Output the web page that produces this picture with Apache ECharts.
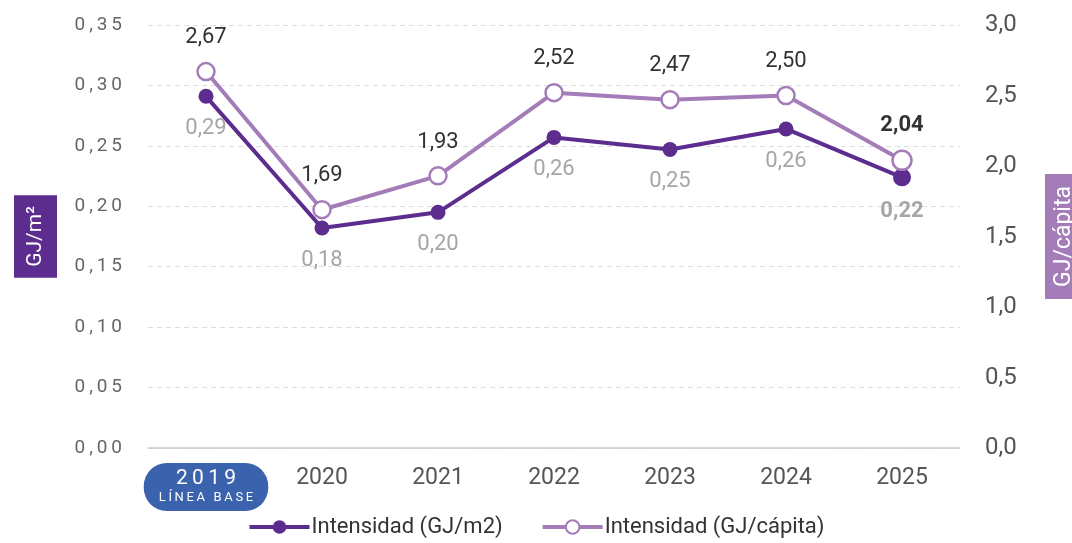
<!DOCTYPE html>
<html>
<head>
<meta charset="utf-8">
<script src="https://cdn.jsdelivr.net/npm/echarts@6/dist/echarts.min.js"></script>
<style>
  html, body { margin: 0; padding: 0; background: #fff; }
  #chart { width: 1072px; height: 543px; }
</style>
</head>
<body>
<div id="chart"></div>
<script>
// datos
var years = ['2019', '2020', '2021', '2022', '2023', '2024', '2025'];
var intensidadM2 = [0.291, 0.182, 0.195, 0.257, 0.247, 0.264, 0.224];
var intensidadM2Labels = ['0,29', '0,18', '0,20', '0,26', '0,25', '0,26', '0,22'];
var intensidadCapita = [2.67, 1.69, 1.93, 2.52, 2.47, 2.50, 2.04];
var leftTicks = ['0,00', '0,05', '0,10', '0,15', '0,20', '0,25', '0,30', '0,35'];
var rightTicks = ['0,0', '0,5', '1,0', '1,5', '2,0', '2,5', '3,0'];

var DARK = '#5c2d8e';
var LIGHT = '#a47cb8';
var FONT = 'Roboto, "Liberation Sans", sans-serif';

function spaced(s) {
  // separa los caracteres como en el original
  return s.split('').join('\u2009');
}

var xData = years.map(function (y, i) {
  if (i === 0) {
    return {
      value: y,
      textStyle: {
        backgroundColor: '#3a62ad',
        borderRadius: 23,
        padding: [5, 15, 5, 15],
        rich: {
          y: { fontSize: 21, color: '#fff', fontFamily: FONT, lineHeight: 22, align: 'center' },
          s: { fontSize: 13, color: '#fff', fontFamily: FONT, lineHeight: 16, align: 'center' }
        }
      }
    };
  }
  return y;
});

var myChart = echarts.init(document.getElementById('chart'));
myChart.setOption({
  animation: false,
  textStyle: { fontFamily: FONT },
  grid: { left: 148, right: 112, top: 25, bottom: 95, containLabel: false, outerBoundsMode: 'none' },
  legend: {
    bottom: 0,
    left: 'center',
    itemWidth: 60,
    itemHeight: 17,
    itemGap: 38,
    lineStyle: { width: 4 },
    textStyle: { fontSize: 22, color: '#333', fontFamily: FONT, padding: [0, 0, 0, -3] },
    data: ['Intensidad (GJ/m2)', 'Intensidad (GJ/cápita)']
  },
  xAxis: {
    type: 'category',
    data: xData,
    boundaryGap: true,
    axisLine: { show: true, lineStyle: { color: '#cccccc', width: 1.5 } },
    axisTick: { show: false },
    axisLabel: {
      interval: 0,
      margin: 15,
      fontSize: 23,
      lineHeight: 30,
      color: '#555',
      formatter: function (v, i) {
        if (i === 0) return '{y|' + spaced(v) + '}\n{s|' + spaced('LÍNEA BASE') + '}';
        return v;
      }
    }
  },
  yAxis: [{
    type: 'value',
    min: 0,
    max: 0.35,
    interval: 0.05,
    position: 'left',
    name: 'GJ/m²',
    nameLocation: 'middle',
    nameRotate: 90,
    nameGap: 91,
    nameTextStyle: {
      color: '#fff',
      backgroundColor: DARK,
      fontSize: 21,
      padding: [11, 11, 11, 11],
      fontFamily: FONT
    },
    axisLine: { show: false },
    axisTick: { show: false },
    axisLabel: {
      margin: 26,
      fontSize: 19,
      color: '#666',
      formatter: function (v) {
        return spaced(leftTicks[Math.round(v / 0.05)] || '');
      }
    },
    splitLine: {
      lineStyle: { color: '#dddddd', type: [5, 4], width: 1 }
    }
  }, {
    type: 'value',
    min: 0,
    max: 3,
    interval: 0.5,
    position: 'right',
    name: 'GJ/cápita',
    nameLocation: 'middle',
    nameRotate: 90,
    nameGap: 85,
    nameTextStyle: {
      color: '#fff',
      backgroundColor: LIGHT,
      fontSize: 23,
      padding: [8, 12, 8, 12],
      fontFamily: FONT
    },
    axisLine: { show: false },
    axisTick: { show: false },
    axisLabel: {
      margin: 25,
      fontSize: 24,
      color: '#555',
      formatter: function (v) {
        return rightTicks[Math.round(v / 0.5)] || '';
      }
    },
    splitLine: { show: false }
  }],
  series: [{
    name: 'Intensidad (GJ/m2)',
    type: 'line',
    yAxisIndex: 0,
    data: intensidadM2.map(function (v, i) {
      var item = { value: v };
      if (i === years.length - 1) {
        item.symbolSize = 18;
        item.label = { fontWeight: 'bold' };
      }
      return item;
    }),
    symbol: 'circle',
    symbolSize: 15,
    z: 3,
    itemStyle: { color: DARK },
    lineStyle: { color: DARK, width: 4 },
    label: {
      show: true,
      position: 'bottom',
      distance: 14,
      fontSize: 22,
      color: '#a6a6a6',
      formatter: function (p) { return intensidadM2Labels[p.dataIndex]; }
    }
  }, {
    name: 'Intensidad (GJ/cápita)',
    type: 'line',
    yAxisIndex: 1,
    data: intensidadCapita.map(function (v, i) {
      var item = { value: v };
      if (i === years.length - 1) {
        item.symbolSize = 19;
        item.label = { fontWeight: 'bold' };
      }
      return item;
    }),
    symbol: 'circle',
    symbolSize: 17,
    z: 4,
    itemStyle: { color: '#fff', borderColor: LIGHT, borderWidth: 2.5 },
    lineStyle: { color: LIGHT, width: 4 },
    label: {
      show: true,
      position: 'top',
      distance: 13,
      fontSize: 22,
      color: '#333',
      formatter: function (p) { return p.value.toFixed(2).replace('.', ','); }
    }
  }]
});
</script>
</body>
</html>
